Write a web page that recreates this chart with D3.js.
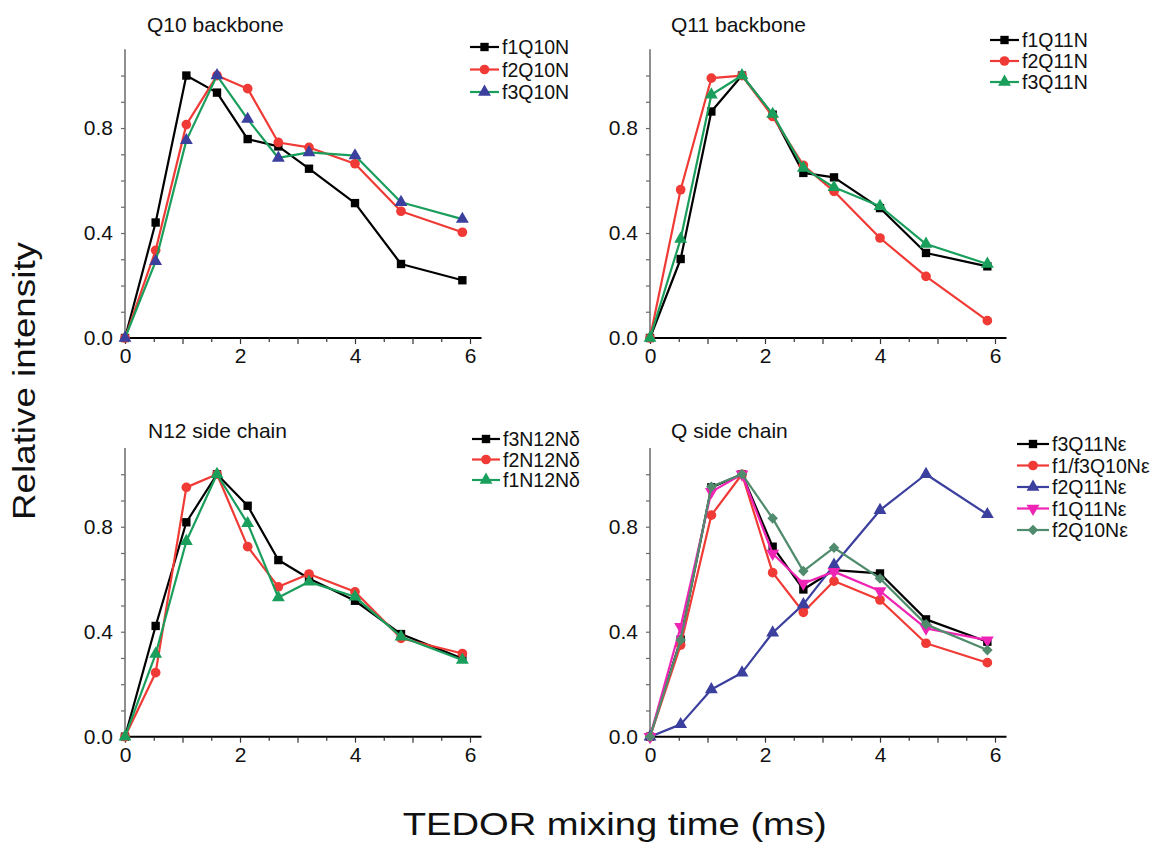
<!DOCTYPE html>
<html>
<head>
<meta charset="utf-8">
<script src="https://cdn.jsdelivr.net/npm/d3@7"></script>
<style>
  body { margin: 0; background: #fff; }
  text { font-family: "Liberation Sans", Arial, Helvetica, sans-serif; fill: #111; }
</style>
</head>
<body>
<svg id="chart" width="1160" height="846"></svg>
<script>
// TEDOR mixing times (ms)
const times = [0, 0.533, 1.067, 1.6, 2.133, 2.667, 3.2, 4.0, 4.8, 5.867];

// Q10 backbone
const f1Q10N = [0, 0.44, 1.00, 0.935, 0.758, 0.730, 0.645, 0.514, 0.282, 0.220];
const f2Q10N = [0, 0.334, 0.813, 1.00, 0.950, 0.745, 0.726, 0.664, 0.483, 0.403];
const f3Q10N = [0, 0.292, 0.753, 1.00, 0.834, 0.686, 0.707, 0.695, 0.517, 0.453];

// Q11 backbone
const f1Q11N = [0, 0.301, 0.863, 1.00, 0.851, 0.629, 0.612, 0.495, 0.324, 0.273];
const f2Q11N = [0, 0.565, 0.990, 1.00, 0.844, 0.658, 0.559, 0.381, 0.235, 0.066];
const f3Q11N = [0, 0.377, 0.927, 1.00, 0.853, 0.648, 0.574, 0.502, 0.358, 0.282];

// N12 side chain
const f3N12Nd = [0, 0.422, 0.817, 1.00, 0.880, 0.673, 0.603, 0.518, 0.391, 0.298];
const f2N12Nd = [0, 0.244, 0.950, 1.00, 0.724, 0.571, 0.620, 0.552, 0.375, 0.317];
const f1N12Nd = [0, 0.315, 0.745, 1.00, 0.813, 0.530, 0.590, 0.533, 0.381, 0.292];

// Q side chain
const f3Q11Ne = [0, 0.370, 0.950, 1.00, 0.724, 0.561, 0.635, 0.622, 0.447, 0.362];
const f13Q10Ne = [0, 0.349, 0.844, 1.00, 0.625, 0.474, 0.593, 0.521, 0.356, 0.282];
const f2Q11Ne = [0, 0.047, 0.180, 0.244, 0.396, 0.504, 0.654, 0.863, 1.00, 0.847];
const f1Q11Ne = [0, 0.419, 0.933, 1.00, 0.698, 0.584, 0.629, 0.555, 0.413, 0.368];
const f2Q10Ne = [0, 0.368, 0.952, 1.00, 0.832, 0.631, 0.720, 0.603, 0.428, 0.330];

// Axis ticks
const xMajorTicks = [0, 2, 4, 6];
const yLabelTicks = [0.0, 0.4, 0.8];

const BLACK = "#000000", RED = "#f03a35", GREEN = "#1a9e5c", BLUE = "#3b3f9e",
      MAGENTA = "#f024b4", SAGE = "#4f8b6c";

const panels = [
  { title: "Q10 backbone", left: 125, bottom: 338, titleX: 147, titleY: 32,
    legend: { x1: 470, x2: 499, y0: 47, dy: 22.5 },
    series: [
      { name: "f1Q10N", values: f1Q10N, stroke: BLACK, fill: BLACK, symbol: "square" },
      { name: "f2Q10N", values: f2Q10N, stroke: RED, fill: RED, symbol: "circle" },
      { name: "f3Q10N", values: f3Q10N, stroke: GREEN, fill: BLUE, symbol: "triangle" }
    ] },
  { title: "Q11 backbone", left: 650, bottom: 338, titleX: 671, titleY: 32,
    legend: { x1: 990, x2: 1019, y0: 40, dy: 21 },
    series: [
      { name: "f1Q11N", values: f1Q11N, stroke: BLACK, fill: BLACK, symbol: "square" },
      { name: "f2Q11N", values: f2Q11N, stroke: RED, fill: RED, symbol: "circle" },
      { name: "f3Q11N", values: f3Q11N, stroke: GREEN, fill: GREEN, symbol: "triangle" }
    ] },
  { title: "N12 side chain", left: 125, bottom: 736.7, titleX: 148, titleY: 438,
    legend: { x1: 472, x2: 500, y0: 439, dy: 20.5 },
    series: [
      { name: "f3N12N\u03b4", values: f3N12Nd, stroke: BLACK, fill: BLACK, symbol: "square" },
      { name: "f2N12N\u03b4", values: f2N12Nd, stroke: RED, fill: RED, symbol: "circle" },
      { name: "f1N12N\u03b4", values: f1N12Nd, stroke: GREEN, fill: GREEN, symbol: "triangle" }
    ] },
  { title: "Q side chain", left: 650, bottom: 736.7, titleX: 671, titleY: 438,
    legend: { x1: 1017, x2: 1049, y0: 444, dy: 21.5 },
    series: [
      { name: "f3Q11N\u03b5", values: f3Q11Ne, stroke: BLACK, fill: BLACK, symbol: "square" },
      { name: "f1/f3Q10N\u03b5", values: f13Q10Ne, stroke: RED, fill: RED, symbol: "circle" },
      { name: "f2Q11N\u03b5", values: f2Q11Ne, stroke: BLUE, fill: BLUE, symbol: "triangle" },
      { name: "f1Q11N\u03b5", values: f1Q11Ne, stroke: MAGENTA, fill: MAGENTA, symbol: "triangleDown" },
      { name: "f2Q10N\u03b5", values: f2Q10Ne, stroke: SAGE, fill: SAGE, symbol: "diamond" }
    ] }
];

const PW = 356.5;   // axis length in x (0 .. 6.2 ms)
const PH = 288.7;   // axis length in y (0 .. 1.1)

const svg = d3.select("#chart");

const symbolGens = {
  square: d3.symbol(d3.symbolSquare, 70),
  circle: d3.symbol(d3.symbolCircle, 74),
  triangle: d3.symbol(d3.symbolTriangle, 72),
  triangleDown: d3.symbol(d3.symbolTriangle, 72),
  diamond: d3.symbol(d3.symbolSquare, 56)
};
const symbolRotation = { triangleDown: 180, diamond: 45 };

function drawMarker(g, kind, cx, cy, fill) {
  const rot = symbolRotation[kind] || 0;
  g.append("path")
    .attr("d", symbolGens[kind]())
    .attr("transform", `translate(${cx},${cy})` + (rot ? ` rotate(${rot})` : ""))
    .attr("fill", fill);
}

panels.forEach(p => {
  const x = d3.scaleLinear().domain([0, 6.2]).range([p.left, p.left + PW]);
  const y = d3.scaleLinear().domain([0, 1.1]).range([p.bottom, p.bottom - PH]);
  const g = svg.append("g");

  // y axis: grey spine with ticks every 0.1
  const yAxis = d3.axisLeft(y)
    .tickValues(d3.range(0, 1.05, 0.1))
    .tickSize(4)
    .tickFormat(d => yLabelTicks.some(v => Math.abs(v - d) < 1e-6) ? d3.format(".1f")(d) : "")
    .tickPadding(8);
  const ya = g.append("g").attr("transform", `translate(${p.left},0)`).call(yAxis);
  ya.select(".domain").attr("d", `M0,${p.bottom}V${p.bottom - PH}`).attr("stroke", "#6a6a6a").attr("stroke-width", 1.5);
  ya.selectAll(".tick line").attr("stroke", "#6a6a6a").attr("stroke-width", 1.2);
  ya.selectAll(".tick text").attr("font-size", 21).attr("fill", "#111")
    .attr("font-family", "Liberation Sans, Arial, sans-serif");

  // x axis: black spine, ticks every 0.5, labels on even values
  const xAxis = d3.axisBottom(x)
    .tickValues(d3.range(0, 6.01, 0.5))
    .tickSize(4)
    .tickFormat(d => xMajorTicks.includes(d) ? d3.format("d")(d) : "")
    .tickPadding(6);
  const xa = g.append("g").attr("transform", `translate(0,${p.bottom})`).call(xAxis);
  xa.select(".domain").attr("d", `M${p.left},0H${p.left + PW}`).attr("stroke", "#000").attr("stroke-width", 2);
  xa.selectAll(".tick line").attr("stroke", "#333").attr("stroke-width", 1.2)
    .attr("y2", d => Number.isInteger(d) ? 6 : 4);
  xa.selectAll(".tick text").attr("font-size", 21).attr("fill", "#111")
    .attr("font-family", "Liberation Sans, Arial, sans-serif");

  // panel title
  g.append("text").attr("x", p.titleX).attr("y", p.titleY)
    .attr("font-size", 21).text(p.title);

  // series lines and markers
  const line = d3.line().x((d, i) => x(times[i])).y(d => y(d));
  p.series.forEach(s => {
    const sg = g.append("g");
    sg.append("path").attr("d", line(s.values))
      .attr("fill", "none").attr("stroke", s.stroke).attr("stroke-width", 2.2)
      .attr("stroke-linejoin", "round");
    s.values.forEach((v, i) => drawMarker(sg, s.symbol, x(times[i]), y(v), s.fill));
  });

  // legend
  p.series.forEach((s, i) => {
    const ly = p.legend.y0 + i * p.legend.dy;
    const lg = g.append("g");
    lg.append("line").attr("x1", p.legend.x1).attr("x2", p.legend.x2)
      .attr("y1", ly).attr("y2", ly).attr("stroke", s.stroke).attr("stroke-width", 2.2);
    drawMarker(lg, s.symbol, (p.legend.x1 + p.legend.x2) / 2, ly, s.fill);
    lg.append("text").attr("x", p.legend.x2 + 3).attr("y", ly + 7)
      .attr("font-size", 19.5).text(s.name);
  });
});

// shared axis titles
svg.append("text")
  .attr("transform", "translate(35,381) rotate(-90)")
  .attr("text-anchor", "middle")
  .attr("font-size", 31)
  .attr("textLength", 278).attr("lengthAdjust", "spacingAndGlyphs")
  .text("Relative intensity");

svg.append("text")
  .attr("x", 614.7).attr("y", 835)
  .attr("text-anchor", "middle")
  .attr("font-size", 32)
  .attr("textLength", 424).attr("lengthAdjust", "spacingAndGlyphs")
  .text("TEDOR mixing time (ms)");
</script>
</body>
</html>
